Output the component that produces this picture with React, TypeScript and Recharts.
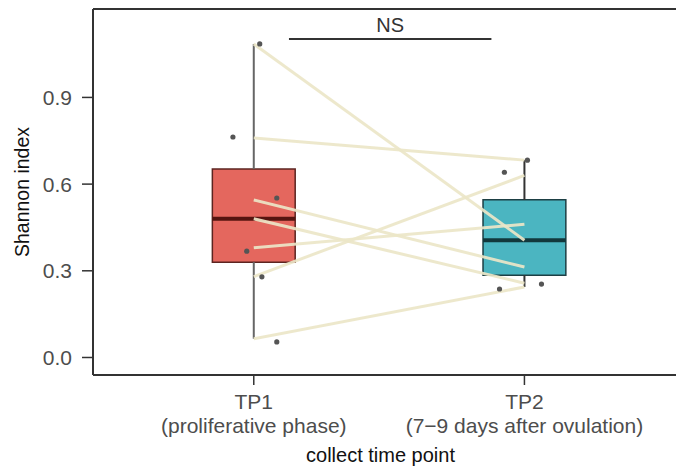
import React from 'react';
import {
    ComposedChart,
    XAxis,
    YAxis,
    Line,
    Scatter,
    ReferenceArea,
    ReferenceLine,
    Label
} from 'recharts';

// paired Shannon index per subject (same index = same subject)
const categories = ['TP1', 'TP2'];
const categorySubtitles = ['(proliferative phase)', '(7\u22129 days after ovulation)'];
const tp1Values = [1.085, 0.76, 0.545, 0.48, 0.38, 0.28, 0.065];
const tp2Values = [0.406, 0.683, 0.313, 0.257, 0.461, 0.63, 0.244];

// jittered points that can be seen in the figure
const tp1Points = [
    { x: 1.022, y: 1.085 },
    { x: 0.923, y: 0.763 },
    { x: 1.085, y: 0.552 },
    { x: 0.974, y: 0.368 },
    { x: 1.03, y: 0.279 },
    { x: 1.085, y: 0.054 }
];
const tp2Points = [
    { x: 2.011, y: 0.683 },
    { x: 1.926, y: 0.641 },
    { x: 2.063, y: 0.254 },
    { x: 1.908, y: 0.237 }
];

const yTicks = [0, 0.3, 0.6, 0.9];
const xTicks = [1, 2];
const signifText = 'NS';
const signifRange = [1.13, 1.878];
const signifY = 1.102;

const X_DOMAIN: [number, number] = [0.406, 2.56];
const Y_DOMAIN: [number, number] = [-0.0606, 1.206];
const BOX_HALF = 0.153;
const FONT = '"Liberation Sans", Arial, Helvetica, sans-serif';

const boxStyles = [
    { fill: '#E4675E', edge: '#5c2420', median: '#561410', whisker: '#666666' },
    { fill: '#4BB5C1', edge: '#1d3f44', median: '#12383c', whisker: '#333333' }
];

const quantile = (vals: number[], p: number) => {
    const s = [...vals].sort((a, b) => a - b);
    const h = (s.length - 1) * p;
    const lo = Math.floor(h);
    const hi = Math.min(lo + 1, s.length - 1);
    return s[lo] + (s[hi] - s[lo]) * (h - lo);
};

const boxStats = (vals: number[]) => {
    const q1 = quantile(vals, 0.25);
    const q3 = quantile(vals, 0.75);
    const iqr = q3 - q1;
    const inside = vals.filter(v => v >= q1 - 1.5 * iqr && v <= q3 + 1.5 * iqr);
    return {
        q1,
        q3,
        median: quantile(vals, 0.5),
        lo: Math.min(...inside),
        hi: Math.max(...inside)
    };
};

const groups = [tp1Values, tp2Values].map((vals, i) => ({ pos: xTicks[i], ...boxStats(vals) }));

const pairs = tp1Values.map((v, i) => [
    { x: xTicks[0], y: v },
    { x: xTicks[1], y: tp2Values[i] }
]);

const XTick = (props: any) => {
    const { x, y, payload } = props;
    const i = xTicks.indexOf(payload.value);
    return (
        <g>
            <text x={x} y={y + 24} textAnchor="middle" fill="#4d4d4d" fontSize={21} fontFamily={FONT}>
                {categories[i]}
            </text>
            <text x={x} y={y + 48} textAnchor="middle" fill="#4d4d4d" fontSize={21} fontFamily={FONT}>
                {categorySubtitles[i]}
            </text>
        </g>
    );
};

const Dot = (props: any) => <circle cx={props.cx} cy={props.cy} r={2.6} fill="#555555" />;

const App = () => {
    return (
        <div style={{ position: 'absolute', left: 0, top: 0, width: 676, height: 468, overflow: 'hidden', background: '#fff' }}>
            <ComposedChart width={676} height={468} margin={{ top: 9, right: 0, bottom: 0, left: 0 }}>
                <XAxis
                    type="number"
                    dataKey="x"
                    domain={X_DOMAIN}
                    ticks={xTicks}
                    allowDataOverflow
                    height={93}
                    axisLine={false}
                    tickSize={10}
                    tickMargin={0}
                    tickLine={{ stroke: '#333', strokeWidth: 1.5 }}
                    tick={<XTick />}
                >
                    <Label
                        content={(p: any) => (
                            <text
                                x={p.viewBox.x + p.viewBox.width / 2 - 4}
                                y={462}
                                textAnchor="middle"
                                fontSize={20}
                                fill="#111"
                                fontFamily={FONT}
                            >
                                collect time point
                            </text>
                        )}
                    />
                </XAxis>
                <YAxis
                    type="number"
                    dataKey="y"
                    domain={Y_DOMAIN}
                    ticks={yTicks}
                    allowDataOverflow
                    width={93}
                    axisLine={false}
                    tickSize={11}
                    tickMargin={10}
                    tickLine={{ stroke: '#333', strokeWidth: 1.5 }}
                    tick={{ fill: '#4d4d4d', fontSize: 21, fontFamily: FONT }}
                    tickFormatter={(v: number) => v.toFixed(1)}
                >
                    <Label
                        content={() => (
                            <text
                                x={22}
                                y={192}
                                transform="rotate(-90 22 192)"
                                textAnchor="middle"
                                dominantBaseline="central"
                                fontSize={19.5}
                                fill="#111"
                                fontFamily={FONT}
                            >
                                Shannon index
                            </text>
                        )}
                    />
                </YAxis>

                {groups.map((g, i) => (
                    <ReferenceArea
                        key={`box${i}`}
                        x1={g.pos - BOX_HALF}
                        x2={g.pos + BOX_HALF}
                        y1={g.q1}
                        y2={g.q3}
                        fill={boxStyles[i].fill}
                        fillOpacity={1}
                        stroke={boxStyles[i].edge}
                        strokeWidth={1.5}
                        zIndex={100}
                    />
                ))}
                {groups.map((g, i) => (
                    <ReferenceLine
                        key={`wu${i}`}
                        segment={[{ x: g.pos, y: g.q3 }, { x: g.pos, y: g.hi }]}
                        stroke={boxStyles[i].whisker}
                        strokeWidth={2}
                        zIndex={110}
                    />
                ))}
                {groups.map((g, i) => (
                    <ReferenceLine
                        key={`wl${i}`}
                        segment={[{ x: g.pos, y: g.lo }, { x: g.pos, y: g.q1 }]}
                        stroke={boxStyles[i].whisker}
                        strokeWidth={2}
                        zIndex={110}
                    />
                ))}
                {groups.map((g, i) => (
                    <ReferenceLine
                        key={`md${i}`}
                        segment={[{ x: g.pos - BOX_HALF, y: g.median }, { x: g.pos + BOX_HALF, y: g.median }]}
                        stroke={boxStyles[i].median}
                        strokeWidth={4}
                        zIndex={120}
                    />
                ))}

                {pairs.map((d, i) => (
                    <Line
                        key={`pair${i}`}
                        data={d}
                        dataKey="y"
                        type="linear"
                        stroke="#ECE6C8"
                        strokeOpacity={0.92}
                        strokeWidth={3}
                        dot={false}
                        activeDot={false}
                        isAnimationActive={false}
                        zIndex={400}
                    />
                ))}

                <Scatter data={tp1Points} dataKey="y" shape={<Dot />} isAnimationActive={false} zIndex={600} />
                <Scatter data={tp2Points} dataKey="y" shape={<Dot />} isAnimationActive={false} zIndex={600} />

                <ReferenceLine
                    segment={[{ x: signifRange[0], y: signifY }, { x: signifRange[1], y: signifY }]}
                    stroke="#333"
                    strokeWidth={2}
                    zIndex={700}
                    label={{ value: signifText, position: 'top', offset: 7, fill: '#333', fontSize: 20, fontFamily: FONT }}
                />

                {/* panel frame */}
                <ReferenceLine y={Y_DOMAIN[1]} stroke="#333" strokeWidth={2} zIndex={800} />
                <ReferenceLine y={Y_DOMAIN[0]} stroke="#333" strokeWidth={2} zIndex={800} />
                <ReferenceLine x={X_DOMAIN[0]} stroke="#333" strokeWidth={2} zIndex={800} />
            </ComposedChart>
        </div>
    );
};

export default App;
